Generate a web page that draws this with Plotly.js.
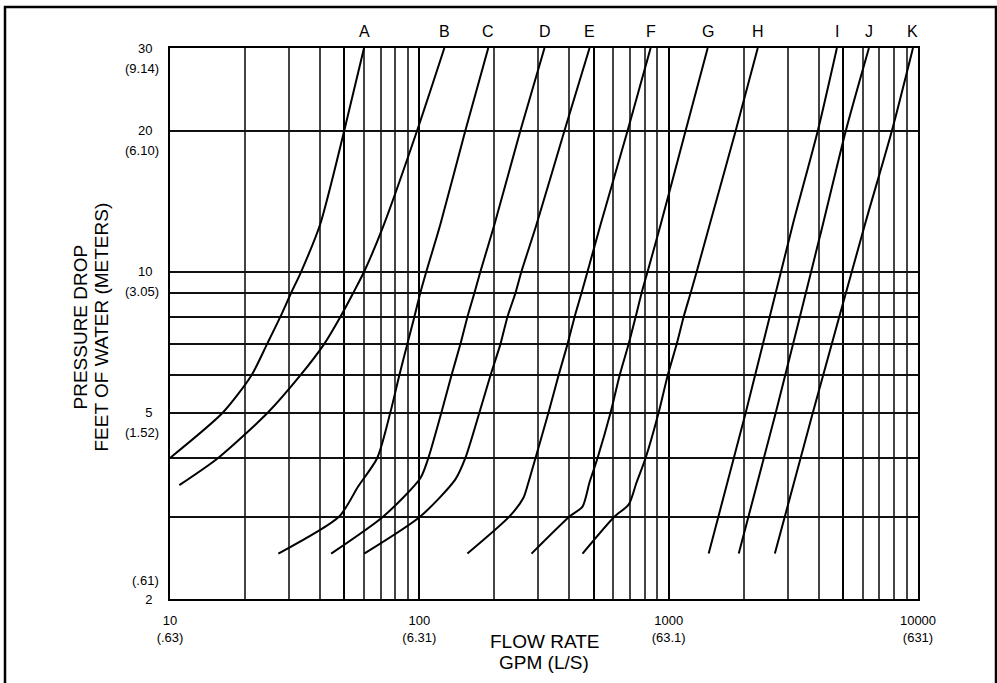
<!DOCTYPE html>
<html>
<head>
<meta charset="utf-8">
<script src="https://cdn.plot.ly/plotly-3.0.1.min.js"></script>
<style>
html,body{margin:0;padding:0;background:#fff;}
#chart{width:997px;height:683px;}
</style>
</head>
<body>
<div id="chart"></div>
<script>
// ---- Data (flow rate in GPM, pressure drop in feet of water) ----
const seriesNames = ['A','B','C','D','E','F','G','H','I','J','K'];

const gpmA = [10, 16.3, 21.2, 24.5, 27.7, 30.6, 33.6, 40, 50, 60];
const ftA  = [4, 5, 6, 7, 8, 9, 10, 12.6, 20, 30];

const gpmB = [10.9, 15.6, 24.7, 33.3, 41.5, 48.2, 54.3, 60.1, 71.7, 98, 126];
const ftB  = [3.5, 4, 5, 6, 7, 8, 9, 10, 12.5, 20, 30];

const gpmC = [27.2, 47.7, 56.9, 67.8, 76.5, 83.1, 89.5, 95.5, 100.9, 106.7, 121.4, 153, 189];
const ftC  = [2.5, 3, 3.48, 4, 5, 6, 7, 8, 9, 10, 12.6, 20, 30];

const gpmD = [44.3, 71.7, 100.9, 108.7, 122.6, 134.5, 146.1, 155.9, 166.3, 175.8, 200.1, 254.4, 317.7];
const ftD  = [2.5, 3, 3.62, 4, 5, 6, 7, 8, 9, 10, 12.6, 20, 30];

const gpmE = [60.1, 100.9, 139.5, 153, 174.2, 192.8, 211.5, 225.6, 243, 256.8, 295.1, 382.2, 481.6];
const ftE  = [2.5, 3, 3.6, 4, 5, 6, 7, 8, 9, 10, 12.6, 20, 30];

const gpmF = [155.9, 229.8, 261.6, 274, 292.4, 329.7, 361.6, 393, 419.4, 447.2, 472.8, 533.3, 684.6, 846.5];
const ftF  = [2.5, 3, 3.29, 3.55, 4, 5, 6, 7, 8, 9, 10, 12.6, 20, 30];

const gpmG = [281.8, 400.4, 451.4, 481.6, 518.6, 584.9, 635.7, 690.9, 737.1, 778.8, 823.5, 928.8, 1170, 1434];
const ftG  = [2.5, 3, 3.15, 3.55, 4, 5, 6, 7, 8, 9, 10, 12.6, 20, 30];

const gpmH = [451.4, 606.9, 690.9, 743.8, 808.2, 911.7, 990.8, 1077, 1148, 1225, 1296, 1461, 1858, 2277];
const ftH  = [2.5, 3, 3.18, 3.55, 4, 5, 6, 7, 8, 9, 10, 12.6, 20, 30];

const gpmI = [1447, 2038, 3147, 3967, 4728];
const ftI  = [2.5, 5, 12.6, 20, 30];

const gpmJ = [1910, 2690, 4154, 5138, 6357];
const ftJ  = [2.5, 5, 12.6, 20, 30];

const gpmK = [2666, 3788, 6125, 7863, 9547];
const ftK  = [2.5, 5, 12.6, 20, 30];

// ---- Axis ticks / labels ----
const xMajorVals = [10, 50, 100, 500, 1000, 5000, 10000];
const xMajorText = ['10<br>(.63)', '', '100<br>(6.31)', '', '1000<br>(63.1)', '', '10000<br>(631)'];
const xMinorVals = [20, 30, 40, 60, 70, 80, 90, 200, 300, 400, 600, 700, 800, 900, 2000, 3000, 4000, 6000, 7000, 8000, 9000];

const yGridVals = [2, 3, 4, 5, 6, 7, 8, 9, 10, 20, 30];
const yGridText = ['2', '', '', '5', '', '', '', '', '10', '20', '30'];
const yMetricVals = [30, 20, 10, 5, 2];
const yMetricText = ['(9.14)', '(6.10)', '(3.05)', '(1.52)', '(.61)'];

const xTitleLines = ['FLOW RATE', 'GPM (L/S)'];
const yTitleLines = ['PRESSURE DROP', 'FEET OF WATER (METERS)'];

// ---- Build traces ----
const seriesX = [gpmA, gpmB, gpmC, gpmD, gpmE, gpmF, gpmG, gpmH, gpmI, gpmJ, gpmK];
const seriesY = [ftA, ftB, ftC, ftD, ftE, ftF, ftG, ftH, ftI, ftJ, ftK];

const traces = seriesNames.map((name, i) => ({
  type: 'scatter',
  mode: 'lines',
  name: name,
  x: seriesX[i],
  y: seriesY[i],
  line: {color: '#000', width: 2, shape: 'spline', smoothing: 0.7},
  hoverinfo: 'x+y+name'
}));

const FONT = 'Liberation Sans, Arial, Helvetica, sans-serif';

const annotations = [];
// series letters above the plot, at each curve's top end
seriesNames.forEach((name, i) => {
  const xs = seriesX[i];
  annotations.push({
    xref: 'x', yref: 'paper',
    x: Math.log10(xs[xs.length - 1]), y: 1,
    xanchor: 'center', yanchor: 'middle', yshift: 17,
    text: name, showarrow: false,
    font: {family: FONT, size: 16, color: '#000'}
  });
});
// metric equivalents of y tick labels
yMetricVals.forEach((v, i) => {
  annotations.push({
    xref: 'paper', yref: 'y',
    x: 0, y: Math.log10(v),
    xanchor: 'right', yanchor: 'middle',
    xshift: -9, yshift: (i === yMetricVals.length - 1) ? 19 : -20,
    text: yMetricText[i], showarrow: false,
    font: {family: FONT, size: 13, color: '#000'}
  });
});
// x axis title (two lines)
annotations.push({
  xref: 'paper', yref: 'paper', x: 0.5, y: 0, yshift: -42,
  xanchor: 'center', yanchor: 'middle', text: xTitleLines[0], showarrow: false,
  font: {family: FONT, size: 19, color: '#000'}
});
annotations.push({
  xref: 'paper', yref: 'paper', x: 0.5, y: 0, yshift: -63,
  xanchor: 'center', yanchor: 'middle', text: xTitleLines[1], showarrow: false,
  font: {family: FONT, size: 19, color: '#000'}
});
// y axis title (two rotated lines)
annotations.push({
  xref: 'paper', yref: 'paper', x: 0, y: 0.5, xshift: -90, yshift: -4,
  xanchor: 'center', yanchor: 'middle', textangle: -90, text: yTitleLines[0], showarrow: false,
  font: {family: FONT, size: 19, color: '#000'}
});
annotations.push({
  xref: 'paper', yref: 'paper', x: 0, y: 0.5, xshift: -69, yshift: -4,
  xanchor: 'center', yanchor: 'middle', textangle: -90, text: yTitleLines[1], showarrow: false,
  font: {family: FONT, size: 19, color: '#000'}
});

const layout = {
  width: 997,
  height: 683,
  margin: {l: 170, r: 79, t: 48, b: 84, pad: 0},
  paper_bgcolor: '#fff',
  plot_bgcolor: '#fff',
  showlegend: false,
  font: {family: FONT, color: '#000'},
  xaxis: {
    type: 'log',
    range: [1, 4],
    tickmode: 'array',
    tickvals: xMajorVals,
    ticktext: xMajorText,
    ticks: '',
    showgrid: true,
    gridcolor: '#000',
    gridwidth: 1.7,
    minor: {tickvals: xMinorVals, showgrid: true, gridcolor: '#444', gridwidth: 1.5, ticks: ''},
    showline: true, linecolor: '#000', linewidth: 2, mirror: true,
    zeroline: false,
    tickfont: {family: FONT, size: 13, color: '#000'},
    ticklabelstandoff: 8,
    fixedrange: true
  },
  yaxis: {
    type: 'log',
    range: [Math.log10(2), Math.log10(30)],
    tickmode: 'array',
    tickvals: yGridVals,
    ticktext: yGridText,
    ticks: '',
    showgrid: true,
    gridcolor: '#111',
    gridwidth: 1.8,
    showline: true, linecolor: '#000', linewidth: 2, mirror: true,
    zeroline: false,
    tickfont: {family: FONT, size: 13, color: '#000'},
    ticklabelstandoff: 13,
    fixedrange: true
  },
  annotations: annotations,
  shapes: [{
    type: 'rect', xref: 'paper', yref: 'paper', layer: 'below',
    x0: (5 - 170) / 748, x1: (996 - 170) / 748,
    y0: (599 - 720) / 551, y1: (599 - 7) / 551,
    line: {color: '#000', width: 2.5}
  }]
};

Plotly.newPlot('chart', traces, layout, {displayModeBar: false});
</script>
</body>
</html>
